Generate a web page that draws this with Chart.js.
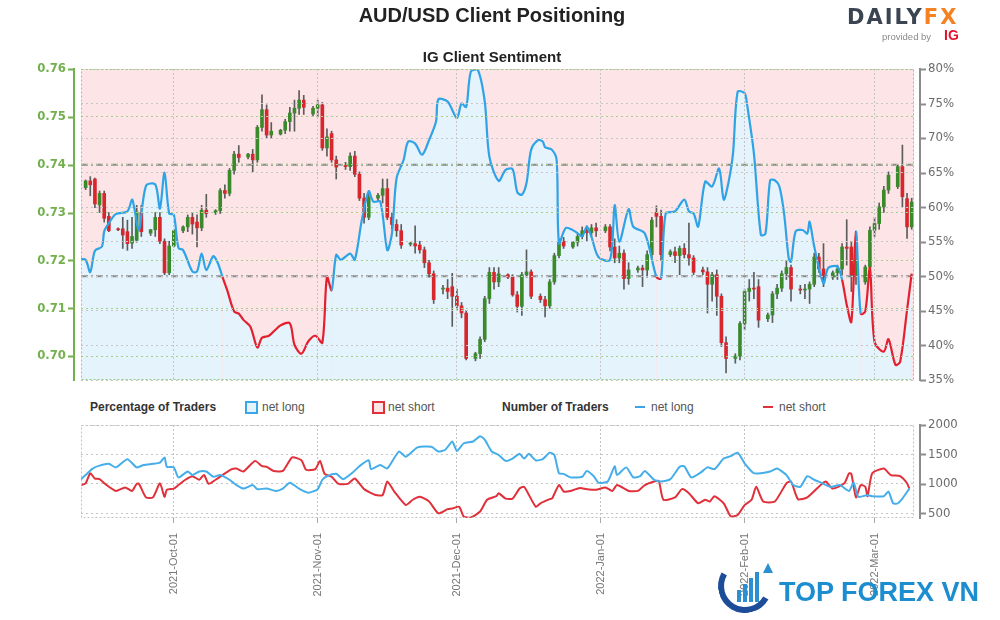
<!DOCTYPE html>
<html>
<head>
    <title>AUD/USD Client Positioning</title>
    <script src="https://cdn.jsdelivr.net/npm/chart.js"></script>
    <style>
body { margin: 0; background: #ffffff; font-family: "Liberation Sans", Arial, sans-serif; }
#wrap { position: relative; width: 1000px; height: 620px; overflow: hidden; }
.abs { position: absolute; white-space: nowrap; }
#topChart { position: absolute; left: 0; top: 0; }
#bottomChart { position: absolute; left: 0; top: 415px; }
.leg { position: absolute; top: 399px; line-height: 16px; font-size: 12px; color: #555; white-space: nowrap; }
.legHead { font-weight: bold; color: #333; }
    </style>
</head>
<body>
<div id="wrap">
    <canvas id="topChart" width="1000" height="390"></canvas>
    <canvas id="bottomChart" width="1000" height="205"></canvas>

    <div class="abs" style="left:0;width:984px;top:4px;text-align:center;font:bold 20px 'Liberation Sans',Arial;color:#222">AUD/USD Client Positioning</div>
    <div class="abs" style="left:0;width:984px;top:48px;text-align:center;font:bold 15px 'Liberation Sans',Arial;color:#222">IG Client Sentiment</div>

    <div class="abs" style="left:847px;top:5px;font:bold 21px 'DejaVu Sans';letter-spacing:2px;color:#3b4552">DAILY<span style="color:#f58220">FX</span></div>
    <div class="abs" style="left:882px;top:31px;font:9.5px 'Liberation Sans';color:#8a8a8a">provided by</div>
    <div class="abs" style="left:944px;top:27px;font:bold 14px 'Liberation Sans';color:#e3102e">IG</div>

    <div class="leg legHead" style="left:90px">Percentage of Traders</div>
    <div class="abs" style="left:245px;top:401px;width:9px;height:9px;border:2px solid #3aa6e8;background:#e4f3fc"></div>
    <div class="leg" style="left:262px">net long</div>
    <div class="abs" style="left:372px;top:401px;width:9px;height:9px;border:2px solid #e0303a;background:#fde4e6"></div>
    <div class="leg" style="left:388px">net short</div>
    <div class="leg legHead" style="left:502px">Number of Traders</div>
    <div class="abs" style="left:635px;top:406px;width:10px;height:2px;background:#3aa6e8"></div>
    <div class="leg" style="left:651px">net long</div>
    <div class="abs" style="left:763px;top:406px;width:10px;height:2px;background:#e0303a"></div>
    <div class="leg" style="left:779px">net short</div>

    <div class="abs" style="left:718px;top:559px;width:42px;height:42px;border-radius:50%;border:6px solid transparent;border-left-color:#1d4c98;border-bottom-color:#1d4c98;transform:rotate(-15deg)"></div>
    <div class="abs" style="left:737px;top:590px;width:4px;height:12px;background:#2b8fd2"></div>
    <div class="abs" style="left:743px;top:584px;width:4px;height:18px;background:#2b8fd2"></div>
    <div class="abs" style="left:749px;top:578px;width:4px;height:24px;background:#2b8fd2"></div>
    <div class="abs" style="left:755px;top:572px;width:4px;height:30px;background:#2b8fd2"></div>
    <div class="abs" style="left:763px;top:563px;width:0;height:0;border-left:5px solid transparent;border-right:5px solid transparent;border-bottom:10px solid #2b8fd2"></div>
    <div class="abs" style="left:779px;top:577px;font:bold 27px 'Liberation Sans',Arial,sans-serif;color:#1c8dcf">TOP FOREX VN</div>
</div>

<script>
// x values are days counted from 2021-10-01
const xMin = -20;
const xMax = 159.5;
const tickDays = [0, 31, 61, 92, 123, 151];
const tickLabels = ['2021-Oct-01', '2021-Nov-01', '2021-Dec-01', '2022-Jan-01', '2022-Feb-01', '2022-Mar-01'];
const priceTicks = [0.70, 0.71, 0.72, 0.73, 0.74, 0.75, 0.76];
const pctTicks = [35, 40, 45, 50, 55, 60, 65, 70, 75, 80];
const countTicks = [500, 1000, 1500, 2000];
const refPrice = 0.74;
const refPct = 50;

// daily AUD/USD candles, Sunday to Friday, from 2021-09-12 to 2022-03-09
const candleOpen = [
    0.7352, 0.7366, 0.7370, 0.7316, 0.7340, 0.7292,
    0.7265, 0.7266, 0.7260, 0.7236, 0.7242, 0.7300,
    0.7257, 0.7264, 0.7290, 0.7240, 0.7174, 0.7230,
    0.7262, 0.7270, 0.7290, 0.7280, 0.7268, 0.7305,
    0.7300, 0.7304, 0.7346, 0.7340, 0.7388, 0.7422,
    0.7416, 0.7422, 0.7410, 0.7478, 0.7515, 0.7462,
    0.7464, 0.7472, 0.7490, 0.7508, 0.7518, 0.7535,
    0.7506, 0.7518, 0.7525, 0.7435, 0.7465, 0.7410,
    0.7398, 0.7396, 0.7418, 0.7380, 0.7330, 0.7290,
    0.7330, 0.7336, 0.7350, 0.7290, 0.7275, 0.7262,
    0.7234, 0.7235, 0.7232, 0.7222, 0.7195, 0.7172,
    0.7140, 0.7142, 0.7145, 0.7125, 0.7105, 0.7090,
    0.6995, 0.7005, 0.7035, 0.7120, 0.7175, 0.7155,
    0.7170, 0.7165, 0.7128, 0.7104, 0.7170, 0.7176,
    0.7125, 0.7118, 0.7105, 0.7155, 0.7210, 0.7240,
    0.7228, 0.7238, 0.7250, 0.7262, 0.7258, 0.7268,
    0.7262, 0.7270, 0.7228, 0.7205, 0.7215, 0.7162,
    0.7180, 0.7184, 0.7180, 0.7212, 0.7300, 0.7292,
    0.7212, 0.7218, 0.7210, 0.7225, 0.7212, 0.7205,
    0.7180, 0.7176, 0.7150, 0.7170, 0.7125, 0.7028,
    0.6995, 0.7000, 0.7068, 0.7135, 0.7142, 0.7145,
    0.7078, 0.7086, 0.7130, 0.7142, 0.7172, 0.7185,
    0.7140, 0.7138, 0.7140, 0.7150, 0.7207, 0.7182,
    0.7165, 0.7174, 0.7182, 0.7228, 0.7228, 0.7170,
    0.7155, 0.7186, 0.7263, 0.7277, 0.7312, 0.7347,
    0.7354, 0.7396, 0.7329, 0.7270
];
const candleHigh = [
    0.7368, 0.7375, 0.7372, 0.7345, 0.7345, 0.7300,
    0.7268, 0.7290, 0.7284, 0.7290, 0.7315, 0.7315,
    0.7265, 0.7300, 0.7300, 0.7245, 0.7240, 0.7265,
    0.7272, 0.7295, 0.7300, 0.7295, 0.7315, 0.7338,
    0.7306, 0.7350, 0.7358, 0.7392, 0.7428, 0.7440,
    0.7424, 0.7432, 0.7482, 0.7546, 0.7525, 0.7488,
    0.7474, 0.7495, 0.7520, 0.7535, 0.7555, 0.7545,
    0.7522, 0.7535, 0.7530, 0.7475, 0.7470, 0.7418,
    0.7405, 0.7425, 0.7428, 0.7385, 0.7340, 0.7345,
    0.7340, 0.7370, 0.7370, 0.7300, 0.7285, 0.7275,
    0.7238, 0.7272, 0.7240, 0.7228, 0.7200, 0.7178,
    0.7148, 0.7160, 0.7173, 0.7140, 0.7112, 0.7095,
    0.7008, 0.7040, 0.7125, 0.7185, 0.7185, 0.7185,
    0.7172, 0.7170, 0.7135, 0.7175, 0.7222, 0.7180,
    0.7130, 0.7125, 0.7160, 0.7215, 0.7245, 0.7248,
    0.7240, 0.7255, 0.7270, 0.7272, 0.7275, 0.7278,
    0.7275, 0.7275, 0.7245, 0.7230, 0.7222, 0.7195,
    0.7188, 0.7190, 0.7220, 0.7290, 0.7314, 0.7305,
    0.7222, 0.7228, 0.7230, 0.7235, 0.7278, 0.7210,
    0.7186, 0.7185, 0.7175, 0.7180, 0.7130, 0.7040,
    0.7005, 0.7072, 0.7140, 0.7160, 0.7175, 0.7160,
    0.7090, 0.7135, 0.7150, 0.7178, 0.7200, 0.7190,
    0.7148, 0.7150, 0.7155, 0.7215, 0.7215, 0.7235,
    0.7178, 0.7190, 0.7235, 0.7285, 0.7240, 0.7240,
    0.7190, 0.7270, 0.7290, 0.7320, 0.7355, 0.7385,
    0.7400, 0.7441, 0.7340, 0.7330
];
const candleLow = [
    0.7348, 0.7335, 0.7310, 0.7300, 0.7280, 0.7260,
    0.7262, 0.7225, 0.7221, 0.7225, 0.7238, 0.7250,
    0.7252, 0.7250, 0.7235, 0.7170, 0.7170, 0.7228,
    0.7258, 0.7260, 0.7255, 0.7228, 0.7262, 0.7290,
    0.7296, 0.7298, 0.7330, 0.7335, 0.7380, 0.7405,
    0.7412, 0.7385, 0.7405, 0.7470, 0.7455, 0.7455,
    0.7462, 0.7465, 0.7470, 0.7470, 0.7505, 0.7505,
    0.7502, 0.7500, 0.7430, 0.7418, 0.7405, 0.7370,
    0.7390, 0.7388, 0.7375, 0.7325, 0.7278, 0.7285,
    0.7325, 0.7320, 0.7285, 0.7265, 0.7250, 0.7225,
    0.7230, 0.7215, 0.7215, 0.7185, 0.7165, 0.7110,
    0.7130, 0.7120, 0.7062, 0.7095, 0.7080, 0.6992,
    0.6990, 0.6995, 0.7030, 0.7110, 0.7140, 0.7145,
    0.7162, 0.7125, 0.7092, 0.7085, 0.7165, 0.7120,
    0.7112, 0.7082, 0.7100, 0.7150, 0.7205, 0.7225,
    0.7225, 0.7230, 0.7245, 0.7240, 0.7250, 0.7250,
    0.7258, 0.7220, 0.7195, 0.7195, 0.7140, 0.7150,
    0.7175, 0.7145, 0.7165, 0.7205, 0.7270, 0.7200,
    0.7208, 0.7195, 0.7170, 0.7205, 0.7190, 0.7170,
    0.7170, 0.7090, 0.7115, 0.7085, 0.7020, 0.6965,
    0.6985, 0.6992, 0.7055, 0.7115, 0.7120, 0.7060,
    0.7072, 0.7070, 0.7120, 0.7135, 0.7160, 0.7115,
    0.7130, 0.7120, 0.7110, 0.7145, 0.7175, 0.7145,
    0.7160, 0.7160, 0.7170, 0.7190, 0.7135, 0.7150,
    0.7150, 0.7170, 0.7250, 0.7265, 0.7300, 0.7340,
    0.7350, 0.7312, 0.7246, 0.7265
];
const candleClose = [
    0.7366, 0.7358, 0.7318, 0.7340, 0.7288, 0.7262,
    0.7264, 0.7253, 0.7235, 0.7250, 0.7301, 0.7260,
    0.7264, 0.7290, 0.7240, 0.7174, 0.7230, 0.7262,
    0.7270, 0.7290, 0.7276, 0.7268, 0.7305, 0.7298,
    0.7304, 0.7346, 0.7340, 0.7388, 0.7422, 0.7415,
    0.7422, 0.7410, 0.7478, 0.7515, 0.7462, 0.7470,
    0.7472, 0.7490, 0.7508, 0.7518, 0.7535, 0.7520,
    0.7518, 0.7525, 0.7435, 0.7458, 0.7410, 0.7395,
    0.7396, 0.7418, 0.7380, 0.7330, 0.7290, 0.7332,
    0.7336, 0.7350, 0.7290, 0.7275, 0.7262, 0.7232,
    0.7235, 0.7230, 0.7222, 0.7195, 0.7172, 0.7118,
    0.7142, 0.7135, 0.7125, 0.7105, 0.7090, 0.6995,
    0.7005, 0.7035, 0.7120, 0.7175, 0.7155, 0.7172,
    0.7165, 0.7128, 0.7104, 0.7170, 0.7176, 0.7125,
    0.7118, 0.7105, 0.7155, 0.7210, 0.7240, 0.7230,
    0.7238, 0.7250, 0.7262, 0.7258, 0.7268, 0.7262,
    0.7270, 0.7228, 0.7205, 0.7215, 0.7162, 0.7180,
    0.7184, 0.7180, 0.7212, 0.7284, 0.7292, 0.7212,
    0.7218, 0.7210, 0.7225, 0.7212, 0.7205, 0.7175,
    0.7176, 0.7150, 0.7170, 0.7125, 0.7028, 0.6995,
    0.7000, 0.7068, 0.7135, 0.7142, 0.7140, 0.7075,
    0.7086, 0.7130, 0.7142, 0.7172, 0.7185, 0.7140,
    0.7138, 0.7140, 0.7150, 0.7207, 0.7182, 0.7160,
    0.7174, 0.7182, 0.7228, 0.7225, 0.7170, 0.7200,
    0.7186, 0.7263, 0.7277, 0.7312, 0.7347, 0.7378,
    0.7396, 0.7333, 0.7270, 0.7322
];

// IG client sentiment, % of traders net long
const sentDays = [-20, -19, -18, -17, -15.5, -15, -14, -12.5, -10, -9,
    -8.5, -7.5, -6, -4, -3, -2, -1, 0, 1, 2,
    4, 5, 6, 7, 8.5, 9.5, 10.5, 11.5, 13, 14,
    15, 16.5, 18, 19, 20.5, 23, 25, 26, 27.5, 29,
    30.5, 32, 33, 34, 35, 36, 38, 39, 40.5, 42,
    43, 44.5, 46, 47, 48, 49.5, 50.5, 52, 53.5, 55,
    56.5, 57, 59, 61, 62, 63, 64, 65.5, 67, 68,
    70, 71.5, 73, 74, 75, 76, 77, 78.5, 79.5, 80,
    81.5, 82.5, 83, 84.5, 86.5, 88, 89, 90, 91.5, 94,
    95, 96, 98, 99, 101.5, 104, 105, 106, 108, 110,
    111, 112, 113, 114.5, 116, 117.5, 118.5, 119.5, 120.5, 121.5,
    123, 123.5, 125, 126.5, 127.5, 128.5, 129.5, 130.5, 131.5, 132.5,
    133, 134, 135.5, 136.5, 137, 138, 140, 141, 143, 144,
    145, 146, 147, 148, 149, 150, 151, 153, 154, 155.5,
    156.5, 158, 159];
const sentLong = [52.5, 52.4, 50.6, 53.7, 54.3, 56.5, 57.7, 59.0, 59.4, 61.1,
    59.8, 56.7, 63.1, 63.3, 59.8, 65.0, 59.1, 58.9, 54.1, 53.8,
    50.7, 50.7, 53.3, 50.9, 52.9, 51.9, 49.9, 48.0, 44.9, 44.6,
    43.7, 42.7, 39.7, 41.1, 41.4, 42.9, 43.2, 40.1, 38.8, 40.6,
    41.4, 40.4, 49.9, 48.0, 53.1, 52.4, 53.3, 52.4, 58.1, 62.3,
    60.8, 60.8, 53.8, 56.2, 64.2, 66.8, 69.5, 69.2, 67.6, 69.7,
    72.4, 75.6, 75.3, 72.9, 75.0, 74.5, 79.6, 79.9, 75.3, 67.3,
    63.8, 65.4, 65.5, 62.2, 61.8, 63.5, 68.3, 69.7, 69.5, 68.7,
    68.3, 66.8, 54.8, 57.0, 56.5, 55.8, 57.2, 55.7, 52.8, 52.4,
    60.3, 55.0, 59.7, 57.2, 56.2, 49.9, 49.7, 59.1, 59.4, 61.1,
    59.4, 59.1, 57.2, 63.7, 63.0, 65.6, 61.1, 63.5, 67.8, 76.7,
    76.5, 75.0, 67.8, 56.0, 56.2, 63.9, 63.9, 63.0, 59.1, 52.6,
    52.1, 56.5, 56.7, 56.2, 57.9, 54.3, 49.0, 51.2, 51.4, 49.5,
    45.9, 43.4, 56.5, 44.6, 44.9, 51.2, 40.5, 39.1, 40.9, 37.2,
    37.6, 45.1, 50.4];

// number of traders
const longDays = [-20, -19, -17.5, -16, -14, -12.5, -10, -8, -6.5, -4.5,
    -3, -2, -1.5, 0, 1, 3, 4, 5.5, 7, 8.5,
    10, 12, 13.5, 15, 17, 18, 20, 22, 23.5, 25,
    27, 29, 31, 32, 33, 35, 36.5, 38.5, 40, 42,
    42.5, 44.5, 46, 48.5, 50, 52.5, 55.5, 57, 58.5, 60,
    61, 62.5, 64.5, 66, 67, 68.5, 70, 71.5, 73, 74.5,
    75.5, 76.5, 78, 79.5, 81, 82, 83, 84, 85.5, 88,
    89, 90.5, 91.5, 93.5, 95, 95.5, 97.5, 99, 100.5, 101.5,
    103.5, 105, 107, 109, 110, 111.5, 113.5, 115, 116.5, 118.5,
    120, 121.5, 123, 125, 126.5, 128.5, 130, 132, 133.5, 135,
    136.5, 138, 139.5, 141.5, 143.5, 145.5, 146.5, 147.5, 149.5, 150.5,
    153, 154, 155, 156, 157, 158.5];
const longCount = [1080, 1150, 1260, 1310, 1340, 1280, 1420, 1280, 1320, 1340,
    1360, 1450, 1290, 1280, 1110, 1210, 1150, 1210, 1210, 1120,
    1150, 1070, 980, 920, 980, 910, 920, 880, 920, 1020,
    920, 850, 910, 1070, 1130, 1170, 1080, 1190, 1300, 1400,
    1250, 1320, 1260, 1550, 1460, 1620, 1630, 1550, 1580, 1720,
    1560, 1690, 1720, 1810, 1750, 1550, 1490, 1390, 1430, 1510,
    1430, 1510, 1400, 1420, 1530, 1490, 1180, 1170, 1110, 1120,
    1220, 1130, 1020, 1040, 1300, 1150, 1280, 1110, 1130, 1220,
    1070, 1040, 1080, 1290, 1300, 1110, 1190, 1280, 1250, 1430,
    1470, 1530, 1350, 1180, 1180, 1210, 1260, 1150, 980, 950,
    1130, 1070, 1020, 950, 980, 880, 1020, 780, 810, 790,
    790, 870, 670, 670, 750, 920];
const shortDays = [-20, -19, -18, -17, -16, -14.5, -12.5, -10.5, -9, -8,
    -7.5, -6, -4.5, -3, -2, -1.5, 0, 1, 2.5, 4,
    5.5, 6.5, 7.5, 9, 10.5, 12.5, 13.5, 15, 17.5, 19,
    20, 21.5, 23.5, 25.5, 27.5, 28.5, 30.5, 31.5, 32.5, 34,
    35.5, 37.5, 39, 41, 43.5, 45, 46, 47.5, 50, 51.5,
    53, 55, 57, 59, 60, 61.5, 62.5, 64, 66, 67.5,
    69.5, 70, 71.5, 73, 74.5, 75.5, 78, 79, 81, 81.5,
    83, 84, 85.5, 87.5, 89, 91, 93, 94.5, 95.5, 98,
    100, 101.5, 103.5, 104.5, 105.5, 108, 109.5, 111, 113, 114.5,
    115.5, 116.5, 118.5, 120, 121.5, 123, 124.5, 125.5, 127, 129.5,
    132, 133, 134.5, 136.5, 139.5, 140.5, 142, 144.5, 145.5, 146,
    147, 148, 149, 149.5, 150.5, 153, 154.5, 156.5, 158, 158.5];
const shortCount = [980, 1010, 1180, 1090, 1080, 980, 880, 940, 880, 1000,
    1000, 770, 770, 1010, 780, 900, 920, 980, 1070, 1130,
    1070, 1150, 1000, 1070, 1150, 1250, 1260, 1210, 1390, 1300,
    1290, 1220, 1220, 1450, 1400, 1240, 1250, 1390, 1170, 1120,
    1000, 1000, 1090, 910, 810, 810, 1040, 870, 640, 730,
    780, 700, 500, 570, 580, 610, 440, 430, 530, 730,
    790, 840, 750, 750, 920, 950, 610, 670, 740, 750,
    980, 870, 880, 930, 910, 900, 940, 880, 980, 880,
    880, 980, 1040, 1050, 730, 770, 910, 840, 670, 730,
    700, 790, 670, 450, 470, 640, 730, 950, 700, 700,
    1010, 1040, 740, 770, 990, 1040, 920, 1010, 1180, 1170,
    770, 980, 950, 790, 1180, 1260, 1150, 1130, 1010, 920];

const blue = '#2ea3e6';
const red = '#e3202f';
const green = '#74b04f';
const pink = '#fde4e6';
const lightBlue = '#e4f3fc';
const axisGray = '#8c8c8c';
const labelFont = '"Liberation Sans Narrow", "DejaVu Sans Condensed", "Liberation Sans", sans-serif';

// candle dates: every day except Saturday, starting Sunday 2021-09-12
const firstCandleDay = -19;
const candleDays = [];
for (let d = firstCandleDay; candleDays.length < candleOpen.length; d++) {
    if ((d - firstCandleDay) % 7 !== 6) candleDays.push(d);
}

const pairs = (xs, ys) => xs.map((x, i) => ({x: x, y: ys[i]}));
const fixedTicks = list => scale => { scale.ticks = list.map(v => ({value: v})); };

// pink plot background, dotted frame and axis lines set a few px away from the plot
const plotFrame = {
    id: 'plotFrame',
    beforeDraw(chart, args, opts) {
        if (!opts.fill) return;
        const {ctx, chartArea: a} = chart;
        ctx.save();
        ctx.fillStyle = opts.fill;
        ctx.fillRect(a.left, a.top, a.width, a.height);
        ctx.restore();
    },
    afterDraw(chart, args, opts) {
        const {ctx, chartArea: a} = chart;
        ctx.save();
        ctx.strokeStyle = opts.frame;
        ctx.lineWidth = 1;
        ctx.setLineDash([2, 2]);
        ctx.strokeRect(a.left + 0.5, a.top + 0.5, a.width - 1, a.height - 1);
        ctx.setLineDash([]);
        (opts.axes || []).forEach(ax => {
            const scale = chart.scales[ax.id];
            const x = ax.side === 'left' ? a.left - 7 : a.right + 6;
            const dir = ax.side === 'left' ? -1 : 1;
            ctx.strokeStyle = ax.color;
            ctx.lineWidth = 2;
            ctx.beginPath();
            ctx.moveTo(x, a.top - 1);
            ctx.lineTo(x, a.bottom + 1);
            scale.ticks.forEach(t => {
                const y = Math.round(scale.getPixelForValue(t.value)) + 0.5;
                ctx.moveTo(x, y);
                ctx.lineTo(x + dir * 6, y);
            });
            ctx.stroke();
        });
        ctx.restore();
    }
};

new Chart(document.getElementById('topChart'), {
    type: 'line',
    data: {
        datasets: [
            {
                label: 'net long %',
                data: pairs(sentDays, sentLong),
                yAxisID: 'yPct',
                borderWidth: 2.2,
                pointRadius: 0,
                tension: 0.3,
                fill: 'start',
                backgroundColor: lightBlue,
                borderColor: blue,
                segment: {
                    borderColor: c => (c.p0.parsed.y + c.p1.parsed.y) / 2 >= refPct ? blue : red
                },
                order: 0
            },
            {
                type: 'bar',
                label: 'body',
                data: candleDays.map((d, i) => ({x: d, y: [Math.min(candleOpen[i], candleClose[i]), Math.max(candleOpen[i], candleClose[i])]})),
                yAxisID: 'yPrice',
                backgroundColor: candleDays.map((d, i) => candleClose[i] >= candleOpen[i] ? '#3a8a2c' : '#d8262d'),
                barThickness: 3,
                minBarLength: 1,
                grouped: false,
                order: 1
            },
            {
                type: 'bar',
                label: 'wick',
                data: candleDays.map((d, i) => ({x: d, y: [candleLow[i], candleHigh[i]]})),
                yAxisID: 'yPrice',
                backgroundColor: '#5c5c5c',
                barThickness: 1,
                grouped: false,
                order: 2
            },
            {
                label: 'ref price',
                data: [{x: xMin, y: refPrice}, {x: xMax, y: refPrice}],
                yAxisID: 'yPrice',
                borderColor: axisGray,
                borderWidth: 2,
                borderDash: [7, 3, 2, 3],
                pointRadius: 0,
                order: 3
            },
            {
                label: 'ref pct',
                data: [{x: xMin, y: refPct}, {x: xMax, y: refPct}],
                yAxisID: 'yPct',
                borderColor: axisGray,
                borderWidth: 2,
                borderDash: [7, 3, 2, 3],
                pointRadius: 0,
                order: 3
            }
        ]
    },
    options: {
        responsive: false,
        animation: false,
        events: [],
        layout: {padding: {top: 69, bottom: 10, left: 0, right: 0}},
        plugins: {
            legend: {display: false},
            tooltip: {enabled: false},
            filler: {drawTime: 'beforeDatasetsDraw'},
            plotFrame: {
                fill: pink,
                frame: '#9cc77f',
                axes: [{id: 'yPrice', side: 'left', color: green}, {id: 'yPct', side: 'right', color: axisGray}]
            }
        },
        scales: {
            x: {
                type: 'linear',
                min: xMin,
                max: xMax,
                offset: false,
                afterBuildTicks: fixedTicks(tickDays),
                ticks: {display: false},
                grid: {color: '#c4c4c4', drawTicks: false, offset: false, z: 1},
                border: {display: false, dash: [2, 2]},
                afterFit: s => { s.height = 0; }
            },
            yPrice: {
                position: 'left',
                min: 0.695,
                max: 0.76,
                afterBuildTicks: fixedTicks(priceTicks),
                ticks: {
                    color: green,
                    padding: 0,
                    font: {family: labelFont, size: 13, weight: 'bold'},
                    callback: v => v.toFixed(2)
                },
                // transparent tick length keeps the labels clear of the detached axis line
                grid: {color: '#a6cf8c', tickColor: 'rgba(0,0,0,0)', tickLength: 15, z: 1},
                border: {display: false, dash: [2, 3]},
                afterFit: s => { s.width = 81; }
            },
            yPct: {
                position: 'right',
                min: 35,
                max: 80,
                afterBuildTicks: fixedTicks(pctTicks),
                ticks: {
                    color: '#6b6b6b',
                    padding: 0,
                    font: {family: labelFont, size: 13},
                    callback: v => v + '%'
                },
                grid: {color: '#c6c6c6', tickColor: 'rgba(0,0,0,0)', tickLength: 14, z: 1},
                border: {display: false, dash: [2, 3]},
                afterFit: s => { s.width = 86; }
            }
        }
    },
    plugins: [plotFrame]
});

new Chart(document.getElementById('bottomChart'), {
    type: 'line',
    data: {
        datasets: [
            {
                label: 'net long',
                data: pairs(longDays, longCount),
                borderColor: '#45aeea',
                borderWidth: 2,
                pointRadius: 0,
                tension: 0.2
            },
            {
                label: 'net short',
                data: pairs(shortDays, shortCount),
                borderColor: '#e0303a',
                borderWidth: 2,
                pointRadius: 0,
                tension: 0.2
            }
        ]
    },
    options: {
        responsive: false,
        animation: false,
        events: [],
        layout: {padding: {top: 10, left: 81, right: 0, bottom: 0}},
        plugins: {
            legend: {display: false},
            tooltip: {enabled: false},
            plotFrame: {frame: '#c2c2c2', axes: [{id: 'y', side: 'right', color: axisGray}]}
        },
        scales: {
            x: {
                type: 'linear',
                min: xMin,
                max: xMax,
                offset: false,
                afterBuildTicks: fixedTicks(tickDays),
                ticks: {
                    color: '#777777',
                    font: {family: '"Liberation Sans", Arial, sans-serif', size: 11},
                    minRotation: 90,
                    maxRotation: 90,
                    autoSkip: false,
                    padding: 10,
                    callback: v => tickLabels[tickDays.indexOf(v)]
                },
                grid: {color: '#c4c4c4', tickColor: '#aaaaaa', tickLength: 5, offset: false},
                border: {display: false, dash: [2, 2]},
                afterFit: s => { s.height = 102; }
            },
            y: {
                position: 'right',
                min: 420,
                max: 2000,
                afterBuildTicks: fixedTicks(countTicks),
                ticks: {
                    color: '#6b6b6b',
                    padding: 0,
                    font: {family: labelFont, size: 13},
                    callback: v => String(v)
                },
                grid: {color: '#c6c6c6', tickColor: 'rgba(0,0,0,0)', tickLength: 14},
                border: {display: false, dash: [2, 3]},
                afterFit: s => { s.width = 86; }
            }
        }
    },
    plugins: [plotFrame]
});
</script>
</body>
</html>
